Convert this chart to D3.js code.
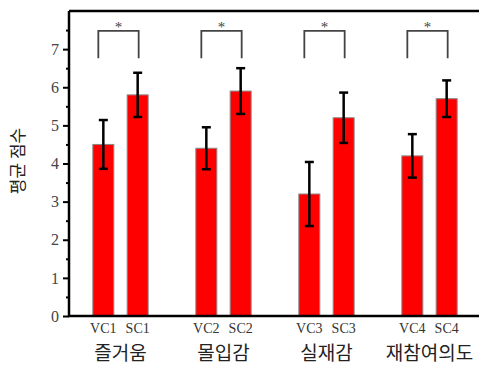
<!DOCTYPE html>
<html><head><meta charset="utf-8">
<script src="https://cdn.jsdelivr.net/npm/d3@7"></script>
<style>body{margin:0;background:#fff}svg{display:block}</style>
</head><body>
<script>
const groups = ["즐거움", "몰입감", "실재감", "재참여의도"];
const conditions = ["VC", "SC"];
const barLabels = [["VC1","SC1"],["VC2","SC2"],["VC3","SC3"],["VC4","SC4"]];
const vcMeans = [4.5, 4.4, 3.2, 4.2];
const scMeans = [5.8, 5.9, 5.2, 5.7];
const vcErr = [0.64, 0.55, 0.84, 0.57];
const scErr = [0.58, 0.60, 0.66, 0.48];
const yTicks = [0,1,2,3,4,5,6,7];
const yMinor = [0.5,1.5,2.5,3.5,4.5,5.5,6.5,7.5];
const sigLabel = "*";
const yTitle = "평균 점수";

const W = 479, H = 366;
const svg = d3.select("body").append("svg").attr("width", W).attr("height", H);
const pL = 69, pR = 481, pT = 11, pB = 316;
const x = d3.scaleBand().domain(groups).range([pL, pR]).padding(0);
const xi = d3.scalePoint().domain(conditions).range([0, x.bandwidth()]).padding(1);
const y = d3.scaleLinear().domain([0, 8]).range([pB, pT]);
const bw = 21;

const data = [];
groups.forEach((g, i) => {
  data.push({g, c: "VC", v: vcMeans[i], e: vcErr[i], label: barLabels[i][0]});
  data.push({g, c: "SC", v: scMeans[i], e: scErr[i], label: barLabels[i][1]});
});
const cx = d => x(d.g) + xi(d.c);

// bars
svg.append("g").selectAll("rect").data(data).join("rect")
  .attr("x", d => cx(d) - bw/2).attr("width", bw)
  .attr("y", d => y(d.v)).attr("height", d => y(0) - y(d.v))
  .attr("fill", "#ff0000").attr("stroke", "#8a8a8a").attr("stroke-width", 1);

// error bars
const eb = svg.append("g").attr("stroke", "#000").attr("stroke-width", 2.5);
data.forEach(d => {
  const c = cx(d);
  eb.append("line").attr("x1", c).attr("x2", c).attr("y1", y(d.v + d.e)).attr("y2", y(d.v - d.e));
  eb.append("line").attr("x1", c-4.5).attr("x2", c+4.5).attr("y1", y(d.v + d.e)).attr("y2", y(d.v + d.e));
  eb.append("line").attr("x1", c-4.5).attr("x2", c+4.5).attr("y1", y(d.v - d.e)).attr("y2", y(d.v - d.e));
});

// significance brackets
const br = svg.append("g");
groups.forEach(g => {
  const x1 = x(g) + xi("VC") - 5, x2 = x(g) + xi("SC") + 1;
  br.append("path")
    .attr("d", `M${x1},${y(6.76)}V${y(7.48)}H${x2}V${y(6.76)}`)
    .attr("fill", "none").attr("stroke", "#444").attr("stroke-width", 1.8);
  br.append("text").attr("x", (x1 + x2)/2).attr("y", y(7.48) + 1)
    .attr("text-anchor", "middle").attr("font-family", "Liberation Serif")
    .attr("font-size", 15).attr("fill", "#444").text(sigLabel);
});

// frame: top line and axes
svg.append("line").attr("x1", pL).attr("x2", W).attr("y1", pT).attr("y2", pT)
  .attr("stroke", "#000").attr("stroke-width", 2.5);

const yAxis = svg.append("g").attr("transform", `translate(${pL},0)`)
  .call(d3.axisLeft(y).tickValues(yTicks).tickFormat(d3.format("d")).tickSize(6).tickPadding(4));
yAxis.select(".domain").attr("stroke-width", 2.5).attr("d", `M0,${pT}V${pB}`);
yAxis.selectAll(".tick line").attr("stroke-width", 2);
yAxis.selectAll("text").attr("font-family", "Liberation Serif").attr("font-size", 16).attr("fill", "#444");
svg.append("g").attr("transform", `translate(${pL},0)`)
  .call(d3.axisLeft(y).tickValues(yMinor).tickFormat("").tickSize(3))
  .call(g => g.select(".domain").remove())
  .selectAll(".tick line").attr("stroke-width", 2);

svg.append("line").attr("x1", pL - 1).attr("x2", W).attr("y1", pB).attr("y2", pB)
  .attr("stroke", "#000").attr("stroke-width", 2.5);

// bar labels
svg.append("g").selectAll("text").data(data).join("text")
  .attr("x", d => cx(d)).attr("y", 333)
  .attr("text-anchor", "middle").attr("font-family", "Liberation Serif")
  .attr("font-size", 14).attr("fill", "#333").text(d => d.label);

// group labels
svg.append("g").selectAll("text").data(groups).join("text")
  .attr("x", g => x(g) + x.bandwidth()/2).attr("y", 360)
  .attr("text-anchor", "middle").attr("font-family", "Noto Sans CJK KR")
  .attr("font-size", 19).attr("fill", "#222").text(g => g);

// y title
svg.append("text").attr("transform", "translate(24,161) rotate(-90)")
  .attr("text-anchor", "middle").attr("font-family", "Noto Sans CJK KR")
  .attr("font-size", 17).attr("fill", "#222").text(yTitle);
</script>
</body></html>
